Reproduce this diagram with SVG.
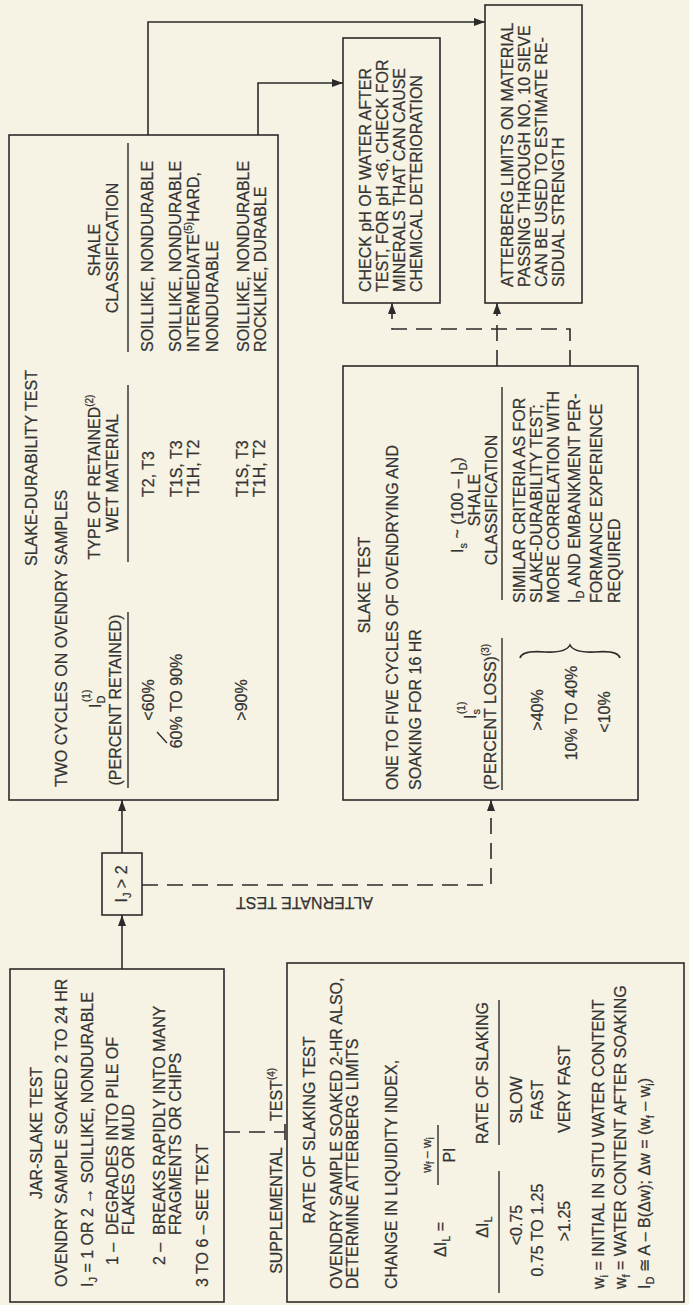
<svg xmlns="http://www.w3.org/2000/svg" width="689" height="1305" viewBox="0 0 689 1305">
<style>
.bg{fill:#F7F3E4}
.box{fill:none;stroke:#2b2b2b;stroke-width:1.6}
.ln{fill:none;stroke:#2b2b2b;stroke-width:1.6}
.dash{stroke-dasharray:16 9}
.ul{fill:none;stroke:#2b2b2b;stroke-width:1.4}
text{font-family:'Liberation Sans',Arial,sans-serif;font-size:16px;fill:#333;stroke:#333;stroke-width:0.25}
.m{text-anchor:middle}
.e{text-anchor:end}
.s{font-size:10px}
.sb{font-size:11px}
.fr{font-size:12px}
</style>
<defs>
<marker id="ah" markerWidth="11" markerHeight="8" refX="11" refY="4" orient="auto" markerUnits="userSpaceOnUse"><path d="M0,0 L11,4 L0,8 z" fill="#2b2b2b"/></marker>
</defs>
<rect class="bg" width="689" height="1305"/>
<g transform="translate(0,1305) rotate(-90)">
<g id="connectors">
<path class="ln" d="M336,122 L390,122" marker-end="url(#ah)"/>
<path class="ln" d="M452,122 L505,122" marker-end="url(#ah)"/>
<path class="ln" d="M1170,148 L1283,148 L1283,485" marker-end="url(#ah)"/>
<path class="ln" d="M1170,258 L1222,258 L1222,343" marker-end="url(#ah)"/>
<path class="ln dash" d="M420,142 L420,491 L505,491" marker-end="url(#ah)"/>
<path class="ln dash" d="M939,497 L1002,497" marker-end="url(#ah)"/>
<path class="ln dash" d="M939,570 L976,570 L976,392 L1002,392" marker-end="url(#ah)"/>
<path class="ln dash" d="M173,224 L173,285"/>
<path class="ln" d="M165,285 L181,285"/>
</g>
<g id="jar-slake">
<rect class="box" x="3" y="10" width="333" height="214"/>
<text class="m" x="172" y="42">JAR-SLAKE TEST</text>
<text x="18" y="67">OVENDRY SAMPLE SOAKED 2 TO 24 HR</text>
<text x="18" y="93">I<tspan class="sb" dy="4">J</tspan><tspan dy="-4"> = 1 OR 2 → SOILLIKE, NONDURABLE</tspan></text>
<text x="40" y="118">1 –</text>
<text x="70" y="118">DEGRADES INTO PILE OF</text>
<text x="70" y="134">FLAKES OR MUD</text>
<text x="40" y="165">2 –</text>
<text x="70" y="165">BREAKS RAPIDLY INTO MANY</text>
<text x="70" y="181">FRAGMENTS OR CHIPS</text>
<text x="18" y="208">3 TO 6 – SEE TEXT</text>
</g>
<g id="supplemental-label">
<text class="e" x="158" y="282">SUPPLEMENTAL</text>
<text x="184" y="282">TEST<tspan class="s" dy="-7">(4)</tspan></text>
</g>
<g id="rate-of-slaking">
<rect class="box" x="3" y="287" width="339" height="397"/>
<text class="m" x="175" y="315">RATE OF SLAKING TEST</text>
<text x="16" y="342">OVENDRY SAMPLE SOAKED 2-HR ALSO,</text>
<text x="16" y="358">DETERMINE ATTERBERG LIMITS</text>
<text x="16" y="397">CHANGE IN LIQUIDITY INDEX,</text>
<text x="48" y="446">ΔI<tspan class="sb" dy="4">L</tspan><tspan dy="-4">  =</tspan></text>
<text class="m fr" x="150" y="431">w<tspan class="s" dy="3">f</tspan><tspan dy="-3"> – w</tspan><tspan class="s" dy="3">i</tspan></text>
<path class="ul" d="M120,438 L180,438"/>
<text class="m" x="150" y="455">PI</text>
<text class="m" x="78" y="488">ΔI<tspan class="sb" dy="4">L</tspan></text>
<text class="m" x="232" y="488">RATE OF SLAKING</text>
<path class="ul" d="M12,499 L134,499 M160,499 L305,499"/>
<text class="m" x="80" y="522">&lt;0.75</text>
<text class="m" x="205" y="522">SLOW</text>
<text class="m" x="75" y="543">0.75 TO 1.25</text>
<text class="m" x="205" y="543">FAST</text>
<text class="m" x="84" y="570">&gt;1.25</text>
<text x="172" y="570">VERY FAST</text>
<text x="16" y="604">w<tspan class="sb" dy="4">i</tspan><tspan dy="-4"> = INITIAL IN SITU WATER CONTENT</tspan></text>
<text x="16" y="626">w<tspan class="sb" dy="4">f</tspan><tspan dy="-4"> = WATER CONTENT AFTER SOAKING</tspan></text>
<text x="16" y="650">I<tspan class="sb" dy="4">D</tspan><tspan dy="-4"> ≅ A – B(Δw); Δw = (w</tspan><tspan class="sb" dy="4">f</tspan><tspan dy="-4"> – w</tspan><tspan class="sb" dy="4">i</tspan><tspan dy="-4">)</tspan></text>
</g>
<g id="ij-decision">
<rect class="box" x="390" y="102" width="62" height="40"/>
<text class="m" x="421" y="127">I<tspan class="sb" dy="4">J</tspan><tspan dy="-4"> &gt; 2</tspan></text>
</g>
<g id="slake-durability">
<rect class="box" x="505" y="9" width="665" height="269"/>
<text class="m" x="837" y="37">SLAKE-DURABILITY TEST</text>
<text x="518" y="67">TWO CYCLES ON OVENDRY SAMPLES</text>
<text x="597" y="101">I<tspan class="sb" dy="4">D</tspan></text>
<text class="s" x="603" y="90">(1)</text>
<text class="m" x="605" y="121">(PERCENT RETAINED)</text>
<text class="m" x="828" y="100">TYPE OF RETAINED<tspan class="s" dy="-7">(2)</tspan></text>
<text class="m" x="832" y="118">WET MATERIAL</text>
<text class="m" x="1055" y="100">SHALE</text>
<text class="m" x="1057" y="118">CLASSIFICATION</text>
<path class="ul" d="M517,128 L693,128 M743,128 L920,128 M953,128 L1162,128"/>
<text class="m" x="605" y="154">&lt;60%</text>
<text class="m" x="604" y="182">60% TO 90%</text>
<path class="ul" d="M573,157 L562,167"/>
<text class="m" x="605" y="247">&gt;90%</text>
<text x="808" y="154">T2, T3</text>
<text x="808" y="182">T1S, T3</text>
<text x="808" y="199">T1H, T2</text>
<text x="808" y="248">T1S, T3</text>
<text x="808" y="265">T1H, T2</text>
<text x="953" y="153">SOILLIKE, NONDURABLE</text>
<text x="953" y="181">SOILLIKE, NONDURABLE</text>
<text x="953" y="199">INTERMEDIATE<tspan class="s" dy="-7">(5)</tspan><tspan dy="7">HARD,</tspan></text>
<text x="953" y="218">NONDURABLE</text>
<text x="953" y="249">SOILLIKE, NONDURABLE</text>
<text x="953" y="266">ROCKLIKE, DURABLE</text>
</g>
<g id="slake-test">
<rect class="box" x="505" y="343" width="434" height="295"/>
<text class="m" x="720" y="370">SLAKE TEST</text>
<text x="515" y="398">ONE TO FIVE CYCLES OF OVENDRYING AND</text>
<text x="515" y="421">SOAKING FOR 16 HR</text>
<text x="586" y="476">I<tspan class="sb" dy="4">s</tspan></text>
<text class="s" x="591" y="465">(1)</text>
<text x="515" y="496">(PERCENT LOSS)<tspan class="s" dy="-7">(3)</tspan></text>
<path class="ul" d="M515,502 L667,502 M705,502 L918,502"/>
<text class="m" x="800" y="463">I<tspan class="sb" dy="4">s</tspan><tspan dy="-4"> ~ (100 – I</tspan><tspan class="sb" dy="4">D</tspan><tspan dy="-4">)</tspan></text>
<text class="m" x="805" y="480">SHALE</text>
<text class="m" x="805" y="497">CLASSIFICATION</text>
<text class="m" x="595" y="543">&gt;40%</text>
<text class="m" x="592" y="577">10% TO 40%</text>
<text class="m" x="593" y="610">&lt;10%</text>
<path class="ln" d="M647,520 Q655,522 653,545 Q652,566 660,570 Q652,574 653,595 Q655,618 647,620"/>
<text x="702" y="525">SIMILAR CRITERIA AS FOR</text>
<text x="702" y="542">SLAKE-DURABILITY TEST;</text>
<text x="702" y="559">MORE CORRELATION WITH</text>
<text x="702" y="580">I<tspan class="sb" dy="4">D</tspan><tspan dy="-4">  AND EMBANKMENT PER-</tspan></text>
<text x="702" y="602">FORMANCE EXPERIENCE</text>
<text x="702" y="620">REQUIRED</text>
</g>
<g id="ph-check">
<rect class="box" x="1002" y="343" width="265" height="97"/>
<text x="1013" y="371">CHECK pH OF WATER AFTER</text>
<text x="1013" y="388">TEST, FOR pH &lt;6, CHECK FOR</text>
<text x="1013" y="405">MINERALS THAT CAN CAUSE</text>
<text x="1013" y="422">CHEMICAL DETERIORATION</text>
</g>
<g id="atterberg">
<rect class="box" x="1002" y="485" width="298" height="97"/>
<text x="1018" y="513">ATTERBERG LIMITS ON MATERIAL</text>
<text x="1018" y="530">PASSING THROUGH NO. 10 SIEVE</text>
<text x="1018" y="547">CAN BE USED TO ESTIMATE RE-</text>
<text x="1018" y="564">SIDUAL STRENGTH</text>
</g>
</g>
<text id="alternate-label" transform="translate(373,897) rotate(180)">ALTERNATE TEST</text>
</svg>
